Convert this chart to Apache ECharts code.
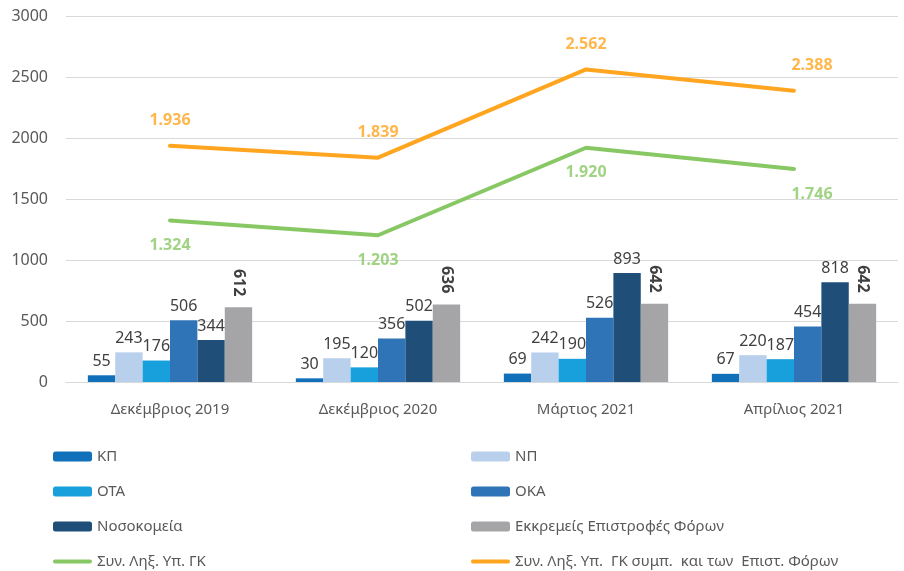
<!DOCTYPE html>
<html><head><meta charset="utf-8">
<script src="https://cdn.jsdelivr.net/npm/echarts@6/dist/echarts.min.js"></script>
<style>html,body{margin:0;padding:0;background:#fff}#c{width:904px;height:571px}</style>
</head><body><div id="c"></div>
<script>
const categories = ['Δεκέμβριος 2019','Δεκέμβριος 2020','Μάρτιος 2021','Απρίλιος 2021'];
const kp = [55, 30, 69, 67];
const np = [243, 195, 242, 220];
const ota = [176, 120, 190, 187];
const oka = [506, 356, 526, 454];
const nosokomeia = [344, 502, 893, 818];
const ekkremeis = [612, 636, 642, 642];
const synLix = [1324, 1203, 1920, 1746];
const synLixEpist = [1936, 1839, 2562, 2388];
const yTicks = {min: 0, max: 3000, interval: 500};

const FONT = '"Noto Sans", sans-serif';
const fmt = v => String(v).replace(/\B(?=(\d{3})+(?!\d))/g, '.');
const LINE_ICON = 'path://M2,0 H38 A2,2 0 0 1 38,4 H2 A2,2 0 0 1 2,0 Z';

function barSeries(name, data, color, rotated) {
  return {
    name, type: 'bar', data, barGap: '0%', barCategoryGap: '21%',
    itemStyle: {color},
    label: rotated ? {
      show: true, position: 'top', rotate: -90, align: 'right', verticalAlign: 'middle',
      distance: 11, color: '#404040', fontSize: 16, fontWeight: 'bold', fontFamily: FONT
    } : {
      show: true, position: 'top', distance: 6, color: '#404040', fontSize: 16, fontFamily: FONT
    }
  };
}
function lineSeries(name, data, color) {
  return {
    name, type: 'line', symbol: 'none', data,
    lineStyle: {color, width: 4, cap: 'round', join: 'round'}, itemStyle: {color}
  };
}
function lineLabels(name, data, color, pos) {
  return {
    name, type: 'scatter', symbolSize: 0, silent: true, z: 5,
    data: data.map((v, i) => i === data.length - 1 ? {value: v, label: {offset: [18, 0]}} : v),
    itemStyle: {color: 'rgba(0,0,0,0)'},
    label: {show: true, position: pos, distance: 17, color, fontSize: 16, fontWeight: 'bold', fontFamily: FONT,
      formatter: p => fmt(p.value)}
  };
}

const chart = echarts.init(document.getElementById('c'));
const legendCommon = {
  orient: 'vertical', itemWidth: 39, itemHeight: 10, itemGap: 20, height: 150,
  textStyle: {color: '#595959', fontSize: 15, fontFamily: FONT},
  top: 444
};
chart.setOption({
  animation: false,
  textStyle: {fontFamily: FONT},
  grid: {left: 66, right: 6, top: 16, bottom: 189},
  legend: [
    Object.assign({left: 48, data: ['ΚΠ', 'ΟΤΑ', 'Νοσοκομεία', {name: 'Συν. Ληξ. Υπ. ΓΚ', icon: LINE_ICON}]}, legendCommon),
    Object.assign({left: 466, data: ['ΝΠ', 'ΟΚΑ', 'Εκκρεμείς Επιστροφές Φόρων', {name: 'Συν. Ληξ. Υπ.  ΓΚ συμπ.  και των  Επιστ. Φόρων', icon: LINE_ICON}]}, legendCommon)
  ],
  xAxis: {
    type: 'category', data: categories,
    axisLine: {lineStyle: {color: '#d9d9d9', width: 1}}, axisTick: {show: false},
    axisLabel: {color: '#595959', fontSize: 15, margin: 20, fontFamily: FONT}
  },
  yAxis: {
    type: 'value', min: yTicks.min, max: yTicks.max, interval: yTicks.interval,
    axisLine: {show: false}, axisTick: {show: false},
    splitLine: {lineStyle: {color: '#d9d9d9', width: 1}},
    axisLabel: {color: '#595959', fontSize: 16, margin: 18, fontFamily: FONT, formatter: v => String(v)}
  },
  series: [
    barSeries('ΚΠ', kp, '#1170BA'),
    barSeries('ΝΠ', np, '#B9D0EC'),
    barSeries('ΟΤΑ', ota, '#17A0DC'),
    barSeries('ΟΚΑ', oka, '#2E74B6'),
    barSeries('Νοσοκομεία', nosokomeia, '#1F4E78'),
    barSeries('Εκκρεμείς Επιστροφές Φόρων', ekkremeis, '#A5A5A8', true),
    lineSeries('Συν. Ληξ. Υπ. ΓΚ', synLix, '#88C864'),
    lineSeries('Συν. Ληξ. Υπ.  ΓΚ συμπ.  και των  Επιστ. Φόρων', synLixEpist, '#FFA51F'),
    lineLabels('lbl1', synLix, '#88C864', 'bottom'),
    lineLabels('lbl2', synLixEpist, '#FFA51F', 'top')
  ]
});
</script></body></html>
